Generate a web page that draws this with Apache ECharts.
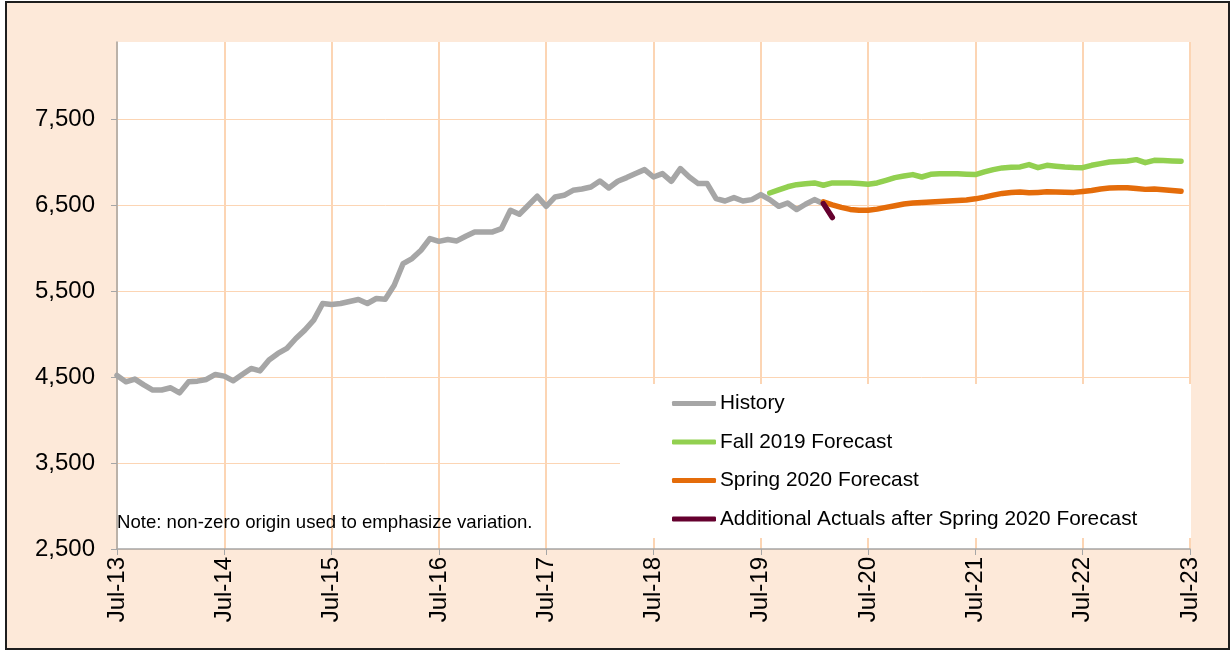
<!DOCTYPE html>
<html>
<head>
<meta charset="utf-8">
<style>
  html, body { margin: 0; padding: 0; background: #fff; width: 1230px; height: 650px; overflow: hidden; }
  #container { position: absolute; left: 5px; top: 1px; width: 1225px; height: 649px; }
  #frame { position: absolute; left: 5px; top: 1px; width: 1225px; height: 649px; border: 2px solid #1e1e1e; box-sizing: border-box; pointer-events: none; }
</style>
</head>
<body>
<div id="container"></div>
<div id="frame"></div>
<script src="https://cdn.jsdelivr.net/npm/echarts@6/dist/echarts.min.js"></script>
<script>
// month labels, Jul-13 .. Jul-23
var monthNames = ['Jan','Feb','Mar','Apr','May','Jun','Jul','Aug','Sep','Oct','Nov','Dec'];
var months = [];
for (var k = 0; k <= 120; k++) {
    var m = (6 + k) % 12;
    var y = 13 + Math.floor((6 + k) / 12);
    months.push(monthNames[m] + '-' + y);
}

// History, starts Jul-13 (index 0)
var historyStart = 0;
var historyVals = [
    4520, 4445, 4477, 4410, 4349, 4350, 4376, 4317, 4445, 4453, 4473, 4531,
    4512, 4457, 4531, 4601, 4573, 4700, 4776, 4834, 4950, 5047, 5163, 5357,
    5345, 5357, 5380, 5403, 5357, 5415, 5407, 5570, 5822, 5880, 5977, 6113,
    6080, 6101, 6085, 6140, 6190, 6190, 6190, 6229, 6442, 6395, 6500, 6605,
    6488, 6597, 6616, 6674, 6690, 6713, 6783, 6701, 6779, 6822, 6870, 6915,
    6829, 6868, 6779, 6927, 6829, 6752, 6752, 6578, 6550, 6589, 6550, 6566,
    6624, 6566, 6488, 6527, 6450, 6512, 6566, 6519
];

// Fall 2019 Forecast, starts Aug-19 (index 73)
var fallStart = 73;
var fall2019 = [
    6643, 6680, 6715, 6740, 6750, 6760, 6733, 6760, 6758, 6760, 6752, 6744,
    6760, 6790, 6822, 6840, 6857, 6829, 6860, 6868, 6866, 6868, 6862, 6857,
    6888, 6915, 6935, 6942, 6946, 6973, 6938, 6965, 6955, 6946, 6940, 6938,
    6965, 6985, 7003, 7010, 7015, 7031, 6996, 7023, 7020, 7015, 7012
];

// Spring 2020 Forecast, starts Feb-20 (index 79)
var springStart = 79;
var spring2020 = [
    6539, 6505, 6475, 6452, 6442, 6442, 6455, 6475, 6495, 6515, 6527, 6532,
    6539, 6545, 6550, 6555, 6562, 6575, 6595, 6618, 6638, 6648, 6655, 6645,
    6650, 6657, 6655, 6652, 6650, 6660, 6672, 6690, 6701, 6705, 6705, 6695,
    6685, 6690, 6680, 6672, 6663
];

// Additional actuals after Spring 2020 forecast
var actualsStart = 79;
var actuals = [6519, 6357];

var yTicks = [2500, 3500, 4500, 5500, 6500, 7500];

function pad(start, vals) {
    var out = [];
    for (var i = 0; i < months.length; i++) {
        var j = i - start;
        out.push(j >= 0 && j < vals.length ? vals[j] : null);
    }
    return out;
}

var font = "'Liberation Sans', Arial, sans-serif";
var everyJuly = function (idx) { return idx % 12 === 0; };

var chart = echarts.init(document.getElementById('container'));

var lineStyleOf = function (color) {
    return { width: 5.5, color: color, cap: 'round', join: 'round' };
};

var option = {
    animation: false,
    backgroundColor: '#fde9d9',
    grid: {
        left: 112, top: 41, right: 40, bottom: 101,
        show: true, backgroundColor: '#ffffff', borderWidth: 0
    },
    legend: {
        orient: 'vertical',
        left: 662,
        top: 387,
        itemGap: 17.5,
        itemWidth: 44,
        itemHeight: 5,
        icon: 'roundRect',
        textStyle: { fontFamily: font, fontSize: 20.8, color: '#000', padding: [0, 0, 0, -1] },
        data: ['History', 'Fall 2019 Forecast', 'Spring 2020 Forecast', 'Additional Actuals after Spring 2020 Forecast']
    },
    xAxis: {
        type: 'category',
        data: months,
        boundaryGap: false,
        axisLine: { lineStyle: { color: '#a6a6a6', width: 1.5 } },
        axisTick: { interval: everyJuly, length: 6, lineStyle: { color: '#a6a6a6' } },
        axisLabel: {
            interval: everyJuly, rotate: 90, margin: 8,
            fontFamily: font, fontSize: 24, color: '#000'
        },
        splitLine: { show: true, interval: everyJuly, lineStyle: { color: '#fcd5b4', width: 2 } }
    },
    yAxis: {
        type: 'value',
        min: 2500,
        max: 8400,
        interval: 1000,
        axisLine: { show: true, lineStyle: { color: '#a6a6a6', width: 1.5 } },
        axisTick: { show: true, length: 6, customValues: yTicks, lineStyle: { color: '#a6a6a6' } },
        axisLabel: {
            margin: 22, customValues: yTicks,
            fontFamily: font, fontSize: 24, color: '#000',
            formatter: function (v) { return v.toLocaleString('en-US'); }
        },
        splitLine: {
            lineStyle: {
                color: ['#fcd5b4', '#fcd5b4', '#fcd5b4', '#fcd5b4', '#fcd5b4', '#fcd5b4', 'rgba(0,0,0,0)'],
                width: 1
            }
        }
    },
    graphic: [
        {
            type: 'rect', z: 1,
            shape: { x: 615, y: 383, width: 571, height: 154 },
            style: { fill: '#ffffff' }
        },
        {
            type: 'text', z: 3,
            x: 112, y: 522,
            style: {
                text: 'Note: non-zero origin used to emphasize variation.',
                font: '18.6px ' + font, fill: '#000', verticalAlign: 'middle'
            }
        }
    ],
    series: [
        {
            name: 'History', type: 'line', symbol: 'none', z: 3,
            itemStyle: { color: '#a6a6a6' }, lineStyle: lineStyleOf('#a6a6a6'),
            data: pad(historyStart, historyVals)
        },
        {
            name: 'Fall 2019 Forecast', type: 'line', symbol: 'none', z: 3,
            itemStyle: { color: '#92d050' }, lineStyle: lineStyleOf('#92d050'),
            data: pad(fallStart, fall2019)
        },
        {
            name: 'Spring 2020 Forecast', type: 'line', symbol: 'none', z: 3,
            itemStyle: { color: '#e46c0a' }, lineStyle: lineStyleOf('#e46c0a'),
            data: pad(springStart, spring2020)
        },
        {
            name: 'Additional Actuals after Spring 2020 Forecast', type: 'line', symbol: 'none', z: 4,
            itemStyle: { color: '#65002e' }, lineStyle: lineStyleOf('#65002e'),
            data: pad(actualsStart, actuals)
        }
    ]
};

chart.setOption(option);
</script>
</body>
</html>
